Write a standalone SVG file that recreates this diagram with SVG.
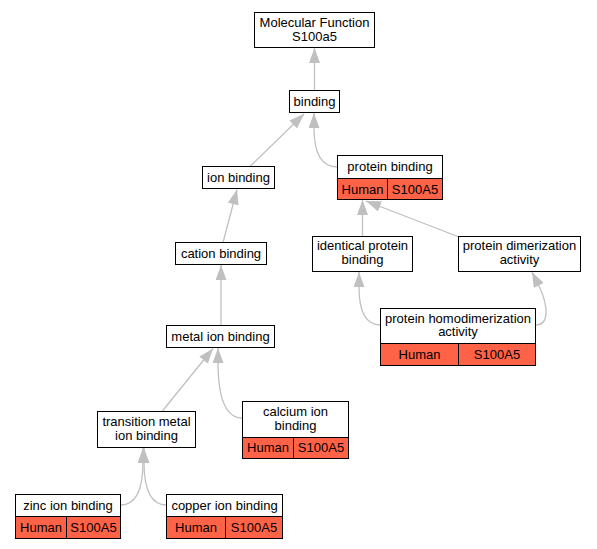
<svg xmlns="http://www.w3.org/2000/svg" width="597" height="549" viewBox="0 0 597 549">
<style>
  text { font-family: "Liberation Sans", Arial, sans-serif; font-size: 13px; fill: #000; text-anchor: middle; }
  .box { fill: #fff; stroke: #000; stroke-width: 1; }
  .hit { fill: #ff6347; stroke: #000; stroke-width: 1; }
  .edge { fill: none; stroke: #c0c0c0; stroke-width: 1.3; marker-end: url(#arr); }
</style>
<defs>
  <marker id="arr" viewBox="0 0 15 11" refX="15" refY="5.5" markerWidth="15" markerHeight="11" markerUnits="userSpaceOnUse" orient="auto">
    <path d="M0,0 L15,5.5 L0,11 z" fill="#c0c0c0"/>
  </marker>
</defs>
<rect width="597" height="549" fill="#fff"/>
<g id="connectors">
  <path class="edge" d="M314.5,90.5 L314.5,48"/>
  <path class="edge" d="M250,166.5 L304,114"/>
  <path class="edge" d="M337.5,167 C322,167 314,155 314,128 L314,113"/>
  <path class="edge" d="M223,242.5 L237,189.5"/>
  <path class="edge" d="M221,325.5 L221,265"/>
  <path class="edge" d="M362.5,236.5 L362.5,200"/>
  <path class="edge" d="M459,237 L366,201"/>
  <path class="edge" d="M380.5,325 C365,325 359,310 359,287 L359,272"/>
  <path class="edge" d="M535.5,325 C550,325 548,305 539,286 L532,272"/>
  <path class="edge" d="M162,411.5 L213,348.5"/>
  <path class="edge" d="M242.5,418 C226,418 218,400 218,362 L218,348"/>
  <path class="edge" d="M120.5,505 C136,505 143,490 143,462 L143,448"/>
  <path class="edge" d="M166.5,505 C151,505 144,490 144,462 L144,448"/>
</g>
<g id="mf">
  <rect class="box" x="254.5" y="12.5" width="120" height="35"/>
  <text x="314.5" y="26.5">Molecular Function</text>
  <text x="314.5" y="40.5">S100a5</text>
</g>
<g id="binding">
  <rect class="box" x="289.5" y="90.5" width="50" height="22"/>
  <text x="314.5" y="106">binding</text>
</g>
<g id="ion_binding">
  <rect class="box" x="202.5" y="166.5" width="72" height="22"/>
  <text x="238.5" y="182">ion binding</text>
</g>
<g id="protein_binding">
  <rect class="box" x="337.5" y="155.5" width="105" height="23"/>
  <rect class="hit" x="337.5" y="178.5" width="50" height="21"/>
  <rect class="hit" x="387.5" y="178.5" width="55" height="21"/>
  <text x="390" y="170.5">protein binding</text>
  <text x="362.5" y="193.5">Human</text>
  <text x="415" y="193.5">S100A5</text>
</g>
<g id="cation_binding">
  <rect class="box" x="175.5" y="242.5" width="91" height="22"/>
  <text x="221" y="258">cation binding</text>
</g>
<g id="identical_protein_binding">
  <rect class="box" x="312.5" y="236.5" width="100" height="35"/>
  <text x="362.5" y="250">identical protein</text>
  <text x="362.5" y="264">binding</text>
</g>
<g id="protein_dimerization_activity">
  <rect class="box" x="458.5" y="236.5" width="122" height="35"/>
  <text x="519.5" y="250">protein dimerization</text>
  <text x="519.5" y="264">activity</text>
</g>
<g id="metal_ion_binding">
  <rect class="box" x="166.5" y="325.5" width="108" height="22"/>
  <text x="220.5" y="341">metal ion binding</text>
</g>
<g id="protein_homodimerization_activity">
  <rect class="box" x="380.5" y="308.5" width="155" height="35"/>
  <rect class="hit" x="380.5" y="343.5" width="78" height="22"/>
  <rect class="hit" x="458.5" y="343.5" width="77" height="22"/>
  <text x="458" y="322.5">protein homodimerization</text>
  <text x="458" y="336">activity</text>
  <text x="419.5" y="359">Human</text>
  <text x="497" y="359">S100A5</text>
</g>
<g id="transition_metal_ion_binding">
  <rect class="box" x="97.5" y="411.5" width="98" height="36"/>
  <text x="146.5" y="425.5">transition metal</text>
  <text x="146.5" y="439.5">ion binding</text>
</g>
<g id="calcium_ion_binding">
  <rect class="box" x="242.5" y="401.5" width="106" height="36"/>
  <rect class="hit" x="242.5" y="437.5" width="51" height="21"/>
  <rect class="hit" x="293.5" y="437.5" width="55" height="21"/>
  <text x="295.5" y="415.5">calcium ion</text>
  <text x="295.5" y="429.5">binding</text>
  <text x="268" y="452">Human</text>
  <text x="321" y="452">S100A5</text>
</g>
<g id="zinc_ion_binding">
  <rect class="box" x="15.5" y="494.5" width="105" height="22"/>
  <rect class="hit" x="15.5" y="516.5" width="51" height="22"/>
  <rect class="hit" x="66.5" y="516.5" width="54" height="22"/>
  <text x="68" y="510">zinc ion binding</text>
  <text x="41" y="531.5">Human</text>
  <text x="93.5" y="531.5">S100A5</text>
</g>
<g id="copper_ion_binding">
  <rect class="box" x="166.5" y="494.5" width="116" height="22"/>
  <rect class="hit" x="166.5" y="516.5" width="59" height="22"/>
  <rect class="hit" x="225.5" y="516.5" width="57" height="22"/>
  <text x="224.5" y="510">copper ion binding</text>
  <text x="196" y="531.5">Human</text>
  <text x="254" y="531.5">S100A5</text>
</g>
</svg>
